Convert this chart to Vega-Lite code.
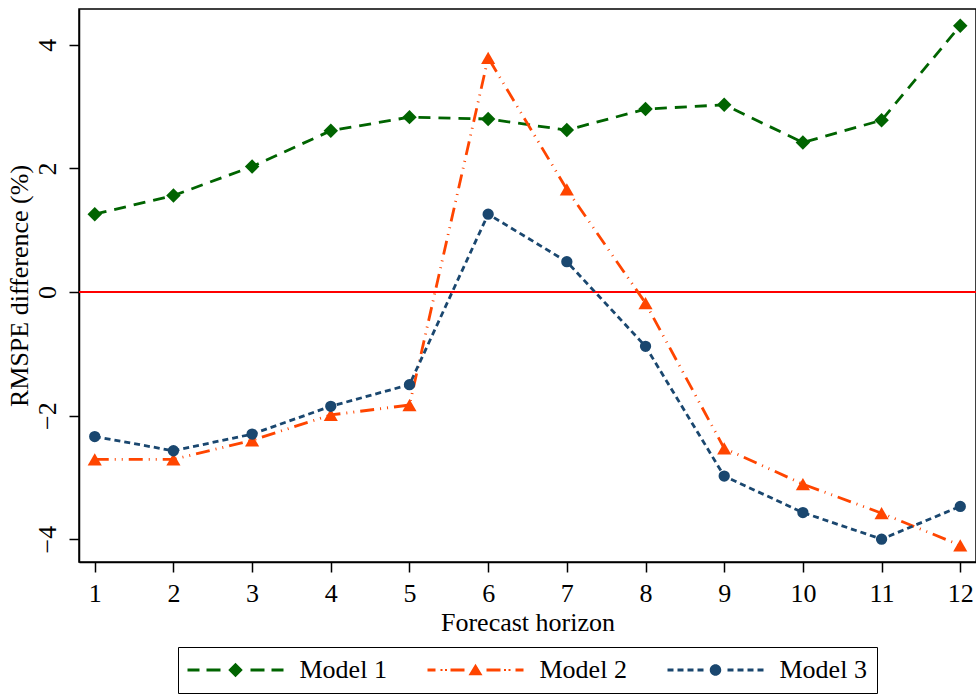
{
  "$schema": "https://vega.github.io/schema/vega-lite/v6.json",
  "width": 897,
  "height": 553,
  "autosize": {"type": "none"},
  "padding": {"left": 79, "top": 9, "right": 0, "bottom": 134},
  "background": "white",
  "config": {
    "font": "Liberation Serif",
    "view": {"stroke": "black", "strokeWidth": 1.5},
    "axis": {
      "grid": false,
      "domainColor": "black",
      "domainWidth": 1.5,
      "tickColor": "black",
      "tickWidth": 1.5,
      "tickSize": 10,
      "labelFont": "Liberation Serif",
      "labelFontSize": 26,
      "labelColor": "black",
      "titleFont": "Liberation Serif",
      "titleFontSize": 26,
      "titleFontWeight": "normal",
      "titleColor": "black"
    }
  },
  "data": {
    "values": [
      {"h": 1, "model": "Model 1", "v": 1.26},
      {"h": 2, "model": "Model 1", "v": 1.56},
      {"h": 3, "model": "Model 1", "v": 2.03},
      {"h": 4, "model": "Model 1", "v": 2.61},
      {"h": 5, "model": "Model 1", "v": 2.83},
      {"h": 6, "model": "Model 1", "v": 2.80},
      {"h": 7, "model": "Model 1", "v": 2.62},
      {"h": 8, "model": "Model 1", "v": 2.96},
      {"h": 9, "model": "Model 1", "v": 3.03},
      {"h": 10, "model": "Model 1", "v": 2.42},
      {"h": 11, "model": "Model 1", "v": 2.78},
      {"h": 12, "model": "Model 1", "v": 4.31},
      {"h": 1, "model": "Model 2", "v": -2.71},
      {"h": 2, "model": "Model 2", "v": -2.71},
      {"h": 3, "model": "Model 2", "v": -2.40},
      {"h": 4, "model": "Model 2", "v": -1.99},
      {"h": 5, "model": "Model 2", "v": -1.83},
      {"h": 6, "model": "Model 2", "v": 3.79},
      {"h": 7, "model": "Model 2", "v": 1.66},
      {"h": 8, "model": "Model 2", "v": -0.18},
      {"h": 9, "model": "Model 2", "v": -2.53},
      {"h": 10, "model": "Model 2", "v": -3.11},
      {"h": 11, "model": "Model 2", "v": -3.58},
      {"h": 12, "model": "Model 2", "v": -4.10},
      {"h": 1, "model": "Model 3", "v": -2.34},
      {"h": 2, "model": "Model 3", "v": -2.57},
      {"h": 3, "model": "Model 3", "v": -2.30},
      {"h": 4, "model": "Model 3", "v": -1.85},
      {"h": 5, "model": "Model 3", "v": -1.50},
      {"h": 6, "model": "Model 3", "v": 1.26},
      {"h": 7, "model": "Model 3", "v": 0.49},
      {"h": 8, "model": "Model 3", "v": -0.88},
      {"h": 9, "model": "Model 3", "v": -2.98},
      {"h": 10, "model": "Model 3", "v": -3.57},
      {"h": 11, "model": "Model 3", "v": -4.00},
      {"h": 12, "model": "Model 3", "v": -3.47}
    ]
  },
  "encoding": {
    "x": {
      "field": "h",
      "type": "quantitative",
      "scale": {"domain": [0.8, 12.2], "nice": false, "zero": false},
      "axis": {
        "title": "Forecast horizon",
        "values": [1, 2, 3, 4, 5, 6, 7, 8, 9, 10, 11, 12],
        "labelPadding": 8,
        "titlePadding": 3,
        "labelFlush": false
      }
    },
    "y": {
      "field": "v",
      "type": "quantitative",
      "scale": {"domain": [-4.37, 4.58], "nice": false, "zero": false},
      "axis": {
        "title": "RMSPE difference (%)",
        "values": [-4, -2, 0, 2, 4],
        "labelAngle": -90,
        "labelAlign": "center",
        "labelBaseline": "bottom",
        "labelPadding": 9,
        "titlePadding": 2,
        "labelFlush": false
      }
    }
  },
  "layer": [
    {
      "data": {"values": [{"zero": 0}]},
      "mark": {"type": "rule", "color": "#ff0000", "strokeWidth": 1.8},
      "encoding": {
        "y": {"field": "zero", "type": "quantitative"},
        "x": null
      }
    },
    {
      "transform": [{"filter": "datum.model === 'Model 1'"}],
      "mark": {"type": "line", "strokeWidth": 2.8, "strokeDash": [12, 8], "point": {"filled": true, "shape": "diamond", "size": 210, "opacity": 1}},
      "encoding": {
        "color": {
          "field": "model",
          "type": "nominal",
          "scale": {"domain": ["Model 1", "Model 2", "Model 3"], "range": ["#006400", "#ff4500", "#1a476f"]},
          "legend": {
            "title": null,
            "orient": "none",
            "legendX": 99,
            "legendY": 638,
            "direction": "horizontal",
            "columns": 3,
            "padding": 10,
            "strokeColor": "black",
            "fillColor": "white",
            "labelFont": "Liberation Serif",
            "labelFontSize": 26,
            "labelColor": "black",
            "symbolSize": 100,
            "symbolStrokeWidth": 0,
            "symbolOffset": 34.5,
            "labelOffset": 51,
            "columnPadding": 40,
            "encode": {
              "symbols": {
                "update": {
                  "shape": {"signal": "datum.value === 'Model 1' ? 'M-9.6,-0.28 L-7.2,-0.28 L-7.2,0.28 L-9.6,0.28 Z M-5.8,-0.28 L-3,-0.28 L-3,0.28 L-5.8,0.28 Z M-1.45,0 L0,-1.45 L1.45,0 L0,1.45 Z M3,-0.28 L5.8,-0.28 L5.8,0.28 L3,0.28 Z M7.2,-0.28 L9.6,-0.28 L9.6,0.28 L7.2,0.28 Z' : datum.value === 'Model 2' ? 'M-9.6,-0.28 L-8,-0.28 L-8,0.28 L-9.6,0.28 Z M-7,-0.2 L-6.6,-0.2 L-6.6,0.2 L-7,0.2 Z M-6.1,-0.2 L-5.7,-0.2 L-5.7,0.2 L-6.1,0.2 Z M-5,-0.28 L-2.2,-0.28 L-2.2,0.28 L-5,0.28 Z M0,-1.25 L1.4,1.05 L-1.4,1.05 Z M2.2,-0.28 L5,-0.28 L5,0.28 L2.2,0.28 Z M5.7,-0.2 L6.1,-0.2 L6.1,0.2 L5.7,0.2 Z M6.6,-0.2 L7,-0.2 L7,0.2 L6.6,0.2 Z M8,-0.28 L9.6,-0.28 L9.6,0.28 L8,0.28 Z' : 'M-9.6,-0.28 L-8.4,-0.28 L-8.4,0.28 L-9.6,0.28 Z M-7.6,-0.28 L-6.4,-0.28 L-6.4,0.28 L-7.6,0.28 Z M-5.6,-0.28 L-4.4,-0.28 L-4.4,0.28 L-5.6,0.28 Z M-3.6,-0.28 L-2.4,-0.28 L-2.4,0.28 L-3.6,0.28 Z M-1.15,0 A1.15,1.15 0 1,0 1.15,0 A1.15,1.15 0 1,0 -1.15,0 Z M2.4,-0.28 L3.6,-0.28 L3.6,0.28 L2.4,0.28 Z M4.4,-0.28 L5.6,-0.28 L5.6,0.28 L4.4,0.28 Z M6.4,-0.28 L7.6,-0.28 L7.6,0.28 L6.4,0.28 Z M8.4,-0.28 L9.6,-0.28 L9.6,0.28 L8.4,0.28 Z'"},
                  "fill": {"signal": "scale('color', datum.value)"},
                  "size": {"value": 100}
                }
              }
            }
          }
        }
      }
    },
    {
      "transform": [{"filter": "datum.model === 'Model 2'"}],
      "mark": {"type": "line", "strokeWidth": 2.8, "strokeDash": [14, 6, 1, 6, 1, 6], "point": {"filled": true, "shape": "triangle-up", "size": 200, "opacity": 1}},
      "encoding": {
        "color": {"field": "model", "type": "nominal"}
      }
    },
    {
      "transform": [{"filter": "datum.model === 'Model 3'"}],
      "mark": {"type": "line", "strokeWidth": 2.8, "strokeDash": [6, 4], "point": {"filled": true, "shape": "circle", "size": 128, "opacity": 1}},
      "encoding": {
        "color": {"field": "model", "type": "nominal"}
      }
    }
  ]
}
